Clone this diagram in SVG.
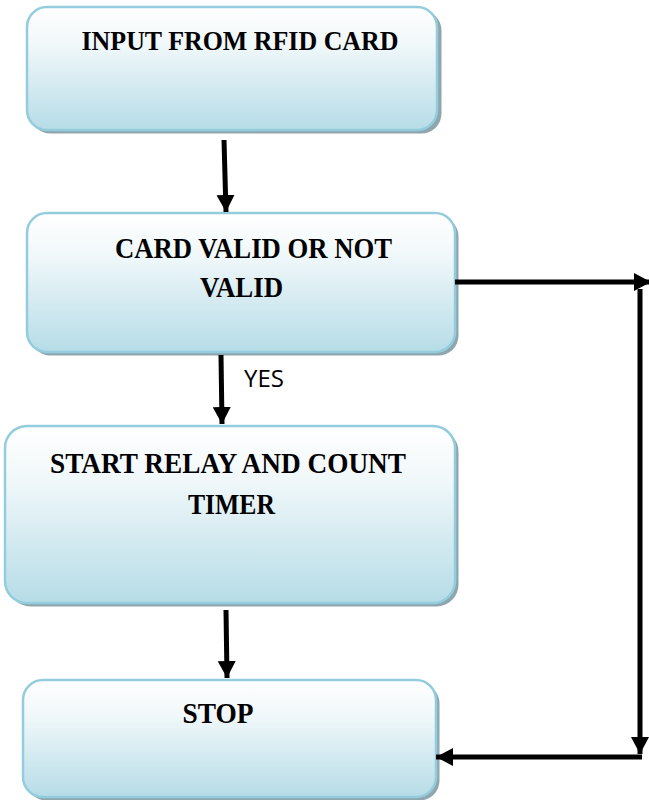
<svg xmlns="http://www.w3.org/2000/svg" width="649" height="800" viewBox="0 0 649 800">
<defs>
<linearGradient id="fill" x1="0" y1="0" x2="0" y2="1">
<stop offset="0" stop-color="#ffffff"/>
<stop offset="0.3" stop-color="#f1f8fa"/>
<stop offset="1" stop-color="#b6dce7"/>
</linearGradient>
<marker id="ah" markerWidth="4" markerHeight="4" refX="3.4" refY="2" orient="auto" markerUnits="strokeWidth">
<path d="M0,0.2 L3.4,2 L0,3.8 Z" fill="#000"/>
</marker>
</defs>
<style>
.shadow{fill:#8fa6ae;}
.box{fill:url(#fill);stroke:#93cddd;stroke-width:2.5;}
.t{font-family:"Liberation Serif",serif;font-weight:bold;font-size:30px;fill:#000;text-anchor:middle;}
.lbl{font-family:"Open Sans","Noto Sans",sans-serif;font-size:24px;fill:#000;}
.c{stroke:#000;stroke-width:5;fill:none;}
</style>
<g id="node-input">
<rect class="shadow" x="30.5" y="10.5" width="411" height="123" rx="20"/>
<rect class="box" x="27" y="7" width="410" height="123" rx="20"/>
<text class="t" x="240" y="50" style="font-size:28px" textLength="317" lengthAdjust="spacingAndGlyphs">INPUT FROM RFID CARD</text>
</g>
<g id="node-valid">
<rect class="shadow" x="30.5" y="216.5" width="428" height="139" rx="20"/>
<rect class="box" x="27" y="213" width="428" height="139" rx="20"/>
<text class="t" x="253.5" y="258" textLength="277" lengthAdjust="spacingAndGlyphs">CARD VALID OR NOT</text>
<text class="t" x="241.5" y="297" textLength="83" lengthAdjust="spacingAndGlyphs">VALID</text>
</g>
<g id="node-relay">
<rect class="shadow" x="8.5" y="429.5" width="450" height="177" rx="22"/>
<rect class="box" x="5" y="426" width="450" height="177" rx="22"/>
<text class="t" x="228" y="473" textLength="356" lengthAdjust="spacingAndGlyphs">START RELAY AND COUNT</text>
<text class="t" x="231.5" y="514" textLength="87" lengthAdjust="spacingAndGlyphs">TIMER</text>
</g>
<g id="node-stop">
<rect class="shadow" x="26.5" y="683.5" width="413" height="117" rx="20"/>
<rect class="box" x="23" y="680" width="413" height="117" rx="20"/>
<text class="t" x="218" y="723" textLength="71" lengthAdjust="spacingAndGlyphs">STOP</text>
</g>
<g id="connectors">
<line class="c" x1="224" y1="140" x2="226" y2="212" marker-end="url(#ah)"/>
<line class="c" x1="221" y1="355" x2="222" y2="424" marker-end="url(#ah)"/>
<line class="c" x1="226" y1="610" x2="227" y2="678" marker-end="url(#ah)"/>
<line class="c" x1="455" y1="282" x2="651" y2="282" marker-end="url(#ah)"/>
<line class="c" x1="640" y1="289" x2="640" y2="754" marker-end="url(#ah)"/>
<line class="c" x1="642" y1="757" x2="436" y2="757" marker-end="url(#ah)"/>
<text class="lbl" x="244" y="387">YES</text>
</g>
</svg>
